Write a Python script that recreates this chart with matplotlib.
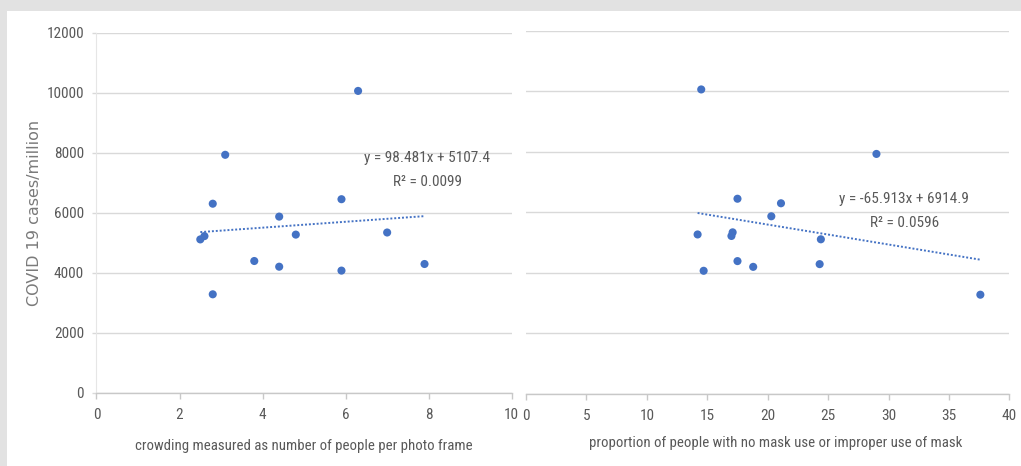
import numpy as np
import matplotlib
matplotlib.use("Agg")
import matplotlib.pyplot as plt
from matplotlib.patches import Rectangle

# ---- data ----
crowding = [6.3, 3.1, 2.8, 5.9, 4.4, 4.8, 2.5, 2.6, 7.0, 3.8, 4.4, 5.9, 7.9, 2.8]
cases_crowding = [10060, 7930, 6300, 6450, 5870, 5270, 5110, 5220, 5340, 4390, 4200, 4070, 4290, 3280]

no_mask = [14.5, 29.0, 17.5, 21.1, 20.3, 14.2, 17.1, 17.0, 24.4, 17.5, 18.8, 24.3, 14.7, 37.6]
cases_mask = [10060, 7930, 6450, 6300, 5870, 5270, 5340, 5220, 5110, 4390, 4200, 4290, 4070, 3280]

fit_crowding = (98.481, 5107.4, 0.0099)
fit_mask = (-65.913, 6914.9, 0.0596)

y_ticks = [0, 2000, 4000, 6000, 8000, 10000, 12000]
x_ticks_left = [0, 2, 4, 6, 8, 10]
x_ticks_right = [0, 5, 10, 15, 20, 25, 30, 35, 40]

BLUE = "#4472C4"
TXT = "#595959"
GRID = "#d9d9d9"
NARROW = ["Roboto Condensed", "Liberation Sans Narrow", "Roboto", "DejaVu Sans"]

fig = plt.figure(figsize=(10.21, 4.66), dpi=100)
fig.patch.set_facecolor("#e2e2e2")
fig.add_artist(Rectangle((7 / 1021, 0), 1, 1 - 11 / 466, transform=fig.transFigure,
                         facecolor="white", edgecolor="none", zorder=0))

ax1 = fig.add_axes([0.0945, 0.1573, 0.4067, 0.7725])
ax2 = fig.add_axes([0.5152, 0.1545, 0.4734, 0.7796])


def style(ax, xticks, show_y):
    ax.set_facecolor("none")
    ax.set_ylim(0, 12000)
    ax.set_xlim(xticks[0], xticks[-1])
    ax.set_xticks(xticks)
    ax.set_yticks(y_ticks)
    ax.grid(True, axis="y", color=GRID, linewidth=1.0)
    ax.set_axisbelow(True)
    for s in ["top", "right"]:
        ax.spines[s].set_visible(False)
    ax.spines["bottom"].set_color("#c8c8c8")
    ax.spines["bottom"].set_linewidth(1.0)
    ax.tick_params(axis="x", length=4, width=1.0, color="#c8c8c8", pad=7,
                   labelsize=11, labelcolor=TXT)
    if show_y:
        ax.spines["left"].set_color("#e6e6e6")
        ax.tick_params(axis="y", length=3, width=1.0, color=GRID, pad=6,
                       labelsize=11, labelcolor=TXT)
    else:
        ax.spines["left"].set_visible(False)
        ax.tick_params(axis="y", length=0, labelleft=False)
    for lab in ax.get_xticklabels() + ax.get_yticklabels():
        lab.set_family(NARROW)


def draw(ax, xs, ys, fit, eq_pos):
    ax.scatter(xs, ys, s=34, color=BLUE, edgecolors="none", zorder=3)
    slope, icpt, r2 = fit
    xl = np.array([min(xs), max(xs)])
    ax.plot(xl, slope * xl + icpt, color=BLUE, linestyle=(0, (1, 1)),
            linewidth=1.4, zorder=2)
    sign = "+" if icpt >= 0 else "-"
    ax.text(eq_pos[0], eq_pos[1], f"y = {slope:g}x {sign} {abs(icpt):g}",
            ha="center", va="center", fontsize=11, color=TXT, family=NARROW)
    ax.text(eq_pos[0], eq_pos[2], f"R² = {r2:.4f}",
            ha="center", va="center", fontsize=11, color=TXT, family=NARROW)


style(ax1, x_ticks_left, True)
style(ax2, x_ticks_right, False)
draw(ax1, crowding, cases_crowding, fit_crowding, (7.96, 7830, 7030))
draw(ax2, no_mask, cases_mask, fit_mask, (31.3, 6440, 5650))

fig.text(304 / 1021, 1 - 446 / 466, "crowding measured as number of people per photo frame",
         ha="center", va="center", fontsize=10.7, color=TXT, family=NARROW)
fig.text(776 / 1021, 1 - 443 / 466, "proportion of people with no mask use or improper use of mask",
         ha="center", va="center", fontsize=10.7, color=TXT, family=NARROW)
fig.text(35 / 1021, 1 - 213 / 466, "COVID 19 cases/million", rotation=90,
         ha="center", va="center", fontsize=11.5, color="#7a7a7a")

fig.savefig("out.png", dpi=100, facecolor=fig.get_facecolor())
